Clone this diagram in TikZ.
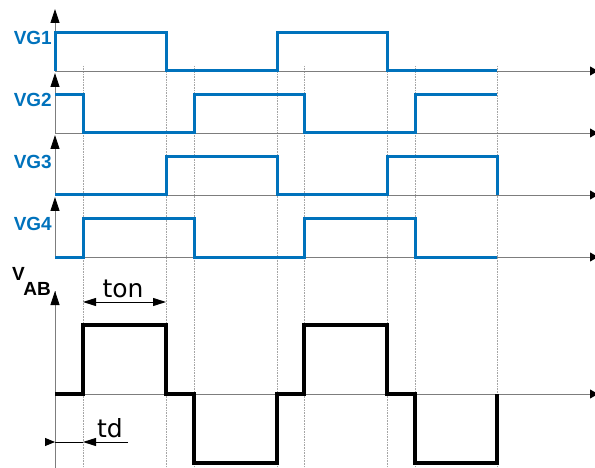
\documentclass[tikz,border=0pt]{standalone}
\usepackage{fontspec}
\setmainfont{Liberation Sans}
\newfontfamily\dimfont{DejaVu Sans}
\usepackage{tikz}
\definecolor{GateBlue}{RGB}{0,114,188}
\definecolor{AxisGray}{RGB}{125,125,125}
\definecolor{GuideGray}{RGB}{165,165,165}
\usetikzlibrary{
	calc,
	arrows.meta
}

\begin{document}
\begin{tikzpicture}[
		x=1pt, y=-1pt,
		axis/.style={draw=AxisGray, line width=0.8pt},
		uptip/.style={-{Triangle[length=14pt, width=9pt, color=black]}},
		righttip/.style={-{Triangle[length=8pt, width=9pt, color=black]}},
		guide/.style={draw=GuideGray, densely dotted, line width=0.6pt},
		gate/.style={draw=GateBlue, line width=3pt},
		bridge/.style={draw=black, line width=4pt},
		tag/.style={font=\bfseries\fontsize{19}{19}\selectfont, text=GateBlue, inner sep=0pt, anchor=base east},
		dim/.style={line width=1pt, {Triangle[length=13pt, width=8pt]}-{Triangle[length=13pt, width=8pt]}}
	]
		\useasboundingbox (0,0) rectangle (595,468);

		% time axes
		\coordinate (top) at (55,9);
		\coordinate (foot) at (55,468);
		\coordinate (far) at (598,0);
		\coordinate (b1) at (55,71);
		\coordinate (b2) at (55,133);
		\coordinate (b3) at (55,195);
		\coordinate (b4) at (55,257);
		\coordinate (b5) at (55,394);
		\coordinate (a5) at (55,291);

		% guide lines at the switching instants
		\foreach \t in {83,166,194,277,304,387,415,497}
			\draw[guide] (\t,66) -- (\t,468);

		\draw[axis, uptip] (b1) -- (top);
		\draw[axis, uptip] (b2) -- ([yshift=-2pt]b1);
		\draw[axis, uptip] (b3) -- ([yshift=-2pt]b2);
		\draw[axis, uptip] (b4) -- ([yshift=-2pt]b3);
		\draw[axis] (foot) -- (a5);
		\draw[axis, uptip] (b5) -- (a5);
		\foreach \b in {b1,b2,b3,b4,b5}
			\draw[axis, righttip] (\b) -- (\b -| far);

		% gate signals
		\draw[gate] (55,71) -- (55,33) -- (166,33) -- (166,71) -- (277,71) -- (277,33) -- (387,33) -- (387,71) -- (497,71);
		\draw[gate] (55,95) -- (83,95) -- (83,133) -- (194,133) -- (194,95) -- (304,95) -- (304,133) -- (415,133) -- (415,95) -- (497,95);
		\draw[gate] (55,195) -- (166,195) -- (166,157) -- (277,157) -- (277,195) -- (387,195) -- (387,157) -- (497,157) -- (497,195);
		\draw[gate] (55,257) -- (83,257) -- (83,219) -- (194,219) -- (194,257) -- (304,257) -- (304,219) -- (415,219) -- (415,257) -- (497,257);

		% bridge voltage
		\draw[bridge] (55,394) -- (83,394) -- (83,325) -- (166,325) -- (166,394) -- (194,394) -- (194,463) -- (277,463) -- (277,394) -- (304,394) -- (304,325) -- (387,325) -- (387,394) -- (415,394) -- (415,463) -- (497,463) -- (497,394);

		\node[tag] (vg1) at (52,45) {VG1};
		\node[tag] (vg2) at (52,107) {VG2};
		\node[tag] (vg3) at (52,169) {VG3};
		\node[tag] (vg4) at (52,231) {VG4};
		\node[font=\bfseries\fontsize{19}{19}\selectfont, inner sep=0pt, anchor=base west] (vab) at (12,280) {V\kern-1.5pt\raisebox{-15pt}{AB}};

		% ton and td
		\coordinate (on1) at (83,302);
		\coordinate (on2) at (166,302);
		\draw[dim] (on1) -- (on2);
		\node[font=\dimfont\fontsize{25}{25}\selectfont, inner sep=0pt, anchor=base] (ton) at (123,297) {ton};

		\coordinate (d0) at (45,442);
		\coordinate (d1) at (55,442);
		\coordinate (d2) at (83,442);
		\coordinate (d3) at (128,442);
		\draw[line width=1pt, -{Triangle[length=10pt, width=8pt]}] (d0) -- (d1);
		\draw[line width=1pt] (d1) -- (d2);
		\draw[line width=1pt, -{Triangle[length=13pt, width=8pt]}] (d3) -- (d2);
		\node[font=\dimfont\fontsize{25}{25}\selectfont, inner sep=0pt, anchor=base] (td) at (110,437) {td};
	\end{tikzpicture}
\end{document}
